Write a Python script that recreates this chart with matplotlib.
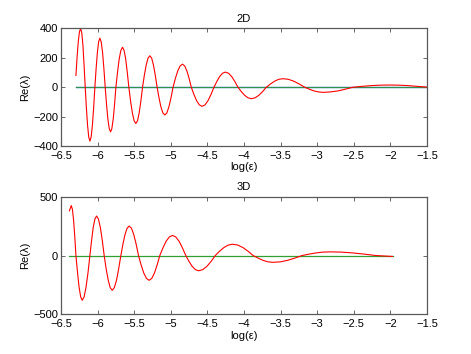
import matplotlib
matplotlib.use('Agg')
import matplotlib.pyplot as plt
from matplotlib.ticker import FuncFormatter

plt.rcParams['font.family'] = ['Liberation Sans', 'DejaVu Sans']

# 2D curve: Re(lambda) vs log(eps)
x_2d = [-6.296, -6.280, -6.264, -6.248, -6.232, -6.216, -6.200, -6.185,
        -6.169, -6.153, -6.137, -6.121, -6.105, -6.088, -6.071, -6.054,
        -6.037, -6.020, -6.003, -5.986, -5.969, -5.951, -5.932, -5.914,
        -5.896, -5.878, -5.860, -5.841, -5.823, -5.805, -5.786, -5.768,
        -5.750, -5.727, -5.705, -5.682, -5.659, -5.638, -5.616, -5.595,
        -5.573, -5.549, -5.525, -5.501, -5.477, -5.454, -5.432, -5.409,
        -5.386, -5.361, -5.336, -5.311, -5.286, -5.261, -5.237, -5.212,
        -5.187, -5.161, -5.135, -5.108, -5.082, -5.054, -5.026, -4.997,
        -4.969, -4.937, -4.905, -4.872, -4.840, -4.810, -4.780, -4.750,
        -4.720, -4.683, -4.647, -4.610, -4.573, -4.532, -4.492, -4.451,
        -4.410, -4.371, -4.332, -4.293, -4.254, -4.211, -4.168, -4.125,
        -4.082, -4.036, -3.991, -3.945, -3.899, -3.848, -3.797, -3.746,
        -3.695, -3.638, -3.582, -3.525, -3.468, -3.394, -3.319, -3.245,
        -3.170, -3.108, -3.045, -2.983, -2.920, -2.818, -2.715, -2.613,
        -2.510, -2.385, -2.260, -2.135, -2.010, -1.885, -1.760, -1.635,
        -1.500]
re_2d = [80, 207, 310, 377, 400, 370, 283, 153,
         0, -141, -259, -339, -367, -339, -259, -141,
         0, 128, 236, 309, 334, 309, 236, 128,
         0, -116, -215, -281, -304, -281, -215, -116,
         0, 104, 192, 251, 272, 251, 192, 104,
         0, -95, -175, -228, -247, -228, -175, -95,
         0, 82, 151, 198, 214, 198, 151, 82,
         0, -72, -134, -175, -189, -175, -134, -72,
         0, 60, 111, 145, 157, 145, 111, 60,
         0, -50, -92, -120, -130, -120, -92, -50,
         0, 39, 73, 95, 103, 95, 73, 39,
         0, -30, -55, -72, -78, -72, -55, -30,
         0, 22, 41, 54, 58, 54, 41, 22,
         0, -13, -25, -32, -35, -32, -25, -13,
         0, 6, 11, 14, 15, 14, 11, 6,
         1]

# 3D curve
x_3d = [-6.385, -6.360, -6.344, -6.328, -6.312,
        -6.296, -6.274, -6.253, -6.231, -6.210, -6.184, -6.158, -6.131,
        -6.105, -6.082, -6.060, -6.037, -6.014, -5.988, -5.962, -5.936,
        -5.910, -5.883, -5.855, -5.828, -5.800, -5.771, -5.741, -5.712,
        -5.682, -5.654, -5.626, -5.597, -5.569, -5.537, -5.505, -5.473,
        -5.441, -5.405, -5.369, -5.332, -5.296, -5.260, -5.223, -5.187,
        -5.150, -5.107, -5.064, -5.020, -4.977, -4.932, -4.886, -4.841,
        -4.795, -4.751, -4.708, -4.664, -4.620, -4.563, -4.506, -4.449,
        -4.392, -4.333, -4.274, -4.214, -4.155, -4.085, -4.015, -3.945,
        -3.875, -3.807, -3.740, -3.672, -3.604, -3.504, -3.405, -3.305,
        -3.205, -3.110, -3.016, -2.921, -2.826, -2.670, -2.513, -2.357,
        -2.200, -2.085, -1.970]
re_3d = [380, 425, 393, 300, 163,
         0, -146, -269, -352, -381, -352, -269, -146,
         0, 129, 238, 310, 336, 310, 238, 129,
         0, -113, -209, -273, -296, -273, -209, -113,
         0, 96, 177, 232, 251, 232, 177, 96,
         0, -81, -149, -195, -211, -195, -149, -81,
         0, 65, 121, 158, 171, 158, 121, 65,
         0, -50, -92, -120, -130, -120, -92, -50,
         0, 37, 68, 89, 96, 89, 68, 37,
         0, -22, -41, -54, -58, -54, -41, -22,
         0, 12, 22, 29, 31, 29, 22, 12,
         0, -4, -8]

x_ticks = [-6.5, -6, -5.5, -5, -4.5, -4, -3.5, -3, -2.5, -2, -1.5]
y_ticks_2d = [-400, -200, 0, 200, 400]
y_ticks_3d = [-500, 0, 500]


def fmt(v, pos):
    return ('%g' % v).replace('-', '\u2212')


def style_axes(ax, yticks, ylim):
    ax.set_xlim(-6.5, -1.5)
    ax.set_ylim(*ylim)
    ax.set_xticks(x_ticks)
    ax.set_yticks(yticks)
    ax.xaxis.set_major_formatter(FuncFormatter(fmt))
    ax.yaxis.set_major_formatter(FuncFormatter(fmt))
    ax.tick_params(direction='in', top=True, right=True, length=3,
                   width=0.6, color='0.3', labelsize=8)
    ax.tick_params(axis='x', pad=3.5)
    ax.tick_params(axis='y', pad=2)
    for s in ax.spines.values():
        s.set_color('0.35')
        s.set_linewidth(0.9)
    ax.set_xlabel('log(\u03b5)', fontsize=8, labelpad=1)
    ax.set_ylabel('Re(\u03bb)', fontsize=8, labelpad=2)


fig = plt.figure(figsize=(4.71, 3.54), dpi=100)

ax1 = fig.add_axes([0.1295, 0.5876, 0.777, 0.332])
ax1.plot([x_2d[0], x_2d[-1]], [0, 0], color='#2040ff', lw=0.9)
ax1.plot([x_2d[0], x_2d[-1]], [0, 0], color='#30a030', lw=0.9, alpha=0.85)
ax1.plot(x_2d, re_2d, color='red', lw=0.8)
style_axes(ax1, y_ticks_2d, (-400, 400))
ax1.set_title('2D', fontsize=8, pad=5)

ax2 = fig.add_axes([0.1295, 0.1122, 0.777, 0.332])
ax2.plot([x_3d[0], x_3d[-1]], [0, 0], color='#30a030', lw=0.9)
ax2.plot(x_3d, re_3d, color='red', lw=0.8)
style_axes(ax2, y_ticks_3d, (-500, 500))
ax2.set_title('3D', fontsize=8, pad=5)

fig.savefig('out.png', dpi=100)
